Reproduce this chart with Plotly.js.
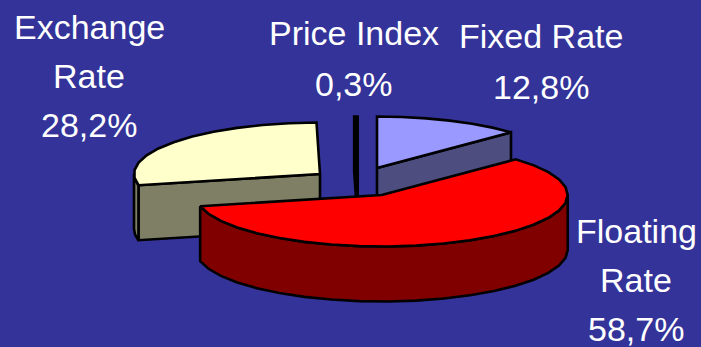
<!DOCTYPE html>
<html>
<head>
<meta charset="utf-8">
<script src="https://cdn.plot.ly/plotly-3.0.1.min.js"></script>
<style>html,body{margin:0;padding:0;background:#333399}</style>
</head>
<body>
<div id="chart" style="width:701px;height:347px"></div>
<script>
// Debt composition by rate type, clockwise from 12 o'clock.
const categories = ['Fixed Rate', 'Floating Rate', 'Exchange Rate', 'Price Index'];
const shares = [12.8, 58.7, 28.2, 0.3];
const topColors = ['#9999FF', '#FF0000', '#FFFFCC', '#000000'];
const sideColors = ['#4D4D80', '#800000', '#7F7F66', '#000000'];
const labelLines = [['Fixed Rate'], ['Floating', 'Rate'], ['Exchange', 'Rate'], ['Price Index']];

// Placement of the exploded disc pieces, in the pixel-sized plot scale.
const RX = 186, RY = 51.5, DEPTH = 55;
const centers = [[377, 168], [381.7, 195], [320, 174], [357.7, 168]];
const labelAnchors = [[541, 36, 50.5], [636, 231, 49], [89, 27, 49], [354, 33, 51]];

const ARC_STEP = 9;

function arc(cx, cy, fromDeg, toDeg, dy) {
  const pts = [];
  const n = Math.max(1, Math.ceil(Math.abs(toDeg - fromDeg) / ARC_STEP));
  for (let i = 0; i <= n; i++) {
    const t = (fromDeg + (toDeg - fromDeg) * i / n) * Math.PI / 180;
    pts.push([cx + RX * Math.cos(t), cy - RY * Math.sin(t) + dy]);
  }
  return pts;
}

function poly(name, pts, fill) {
  const closed = pts.concat([pts[0]]);
  return {
    type: 'scatter', mode: 'lines', name: name, hoverinfo: 'skip', showlegend: false,
    x: closed.map(p => p[0]), y: closed.map(p => p[1]),
    fill: 'toself', fillcolor: fill,
    line: {color: '#000000', width: 2.6, shape: 'linear'}
  };
}

// Turn the shares into angular spans.
let cursor = 90;
const pieces = shares.map((s, i) => {
  const start = cursor;
  cursor -= s * 3.6;
  return {i: i, start: start, end: cursor};
});

function point(cx, cy, deg) {
  return [cx + RX * Math.cos(deg * Math.PI / 180), cy - RY * Math.sin(deg * Math.PI / 180)];
}

function cutFace(name, cx, cy, deg, fill) {
  const [sx, sy] = point(cx, cy, deg);
  return poly(name, [[cx, cy], [sx, sy], [sx, sy + DEPTH], [cx, cy + DEPTH]], fill);
}

// One piece: cut face toward the viewer, visible rim, then the top surface.
function drawPiece(p) {
  const [cx, cy] = centers[p.i];
  const name = categories[p.i];
  const side = sideColors[p.i];
  const out = [];

  if (p.start > 0 && p.end > 0) {
    out.push(cutFace(name, cx, cy, p.end, side));
  } else if (p.start > 0 && p.end > -180) {
    out.push(poly(name, arc(cx, cy, 0, p.end, 0).concat(arc(cx, cy, p.end, 0, DEPTH)), side));
  } else if (p.start > -180) {
    out.push(cutFace(name, cx, cy, p.start, side));
    out.push(poly(name, arc(cx, cy, p.start, -180, 0).concat(arc(cx, cy, -180, p.start, DEPTH)), side));
  } else {
    out.push(cutFace(name, cx, cy, p.start, side));
  }
  out.push(poly(name, [[cx, cy]].concat(arc(cx, cy, p.start, p.end, 0)), topColors[p.i]));
  return out;
}

const order = [2, 0, 3, 1];
const traces = [];
order.forEach(k => drawPiece(pieces[k]).forEach(t => traces.push(t)));

// Text is placed line by line to keep the wide leading.
const annotations = [];
labelLines.forEach((lines, i) => {
  const [x, y, lead] = labelAnchors[i];
  const all = lines.concat([shares[i].toFixed(1).replace('.', ',') + '%']);
  all.forEach((text, j) => annotations.push({
    x: x, y: y + j * lead, xref: 'x', yref: 'y', text: text, showarrow: false,
    xanchor: 'center', yanchor: 'middle',
    font: {family: 'Liberation Sans, Arial, sans-serif', size: 34, color: '#FFFFFF'}
  }));
});

Plotly.newPlot('chart', traces, {
  width: 701, height: 347,
  margin: {l: 0, r: 0, t: 0, b: 0},
  paper_bgcolor: '#333399', plot_bgcolor: '#333399',
  showlegend: false,
  xaxis: {range: [0, 701], visible: false, fixedrange: true},
  yaxis: {range: [347, 0], visible: false, fixedrange: true},
  annotations: annotations
}, {displayModeBar: false, staticPlot: true});
</script>
</body>
</html>
